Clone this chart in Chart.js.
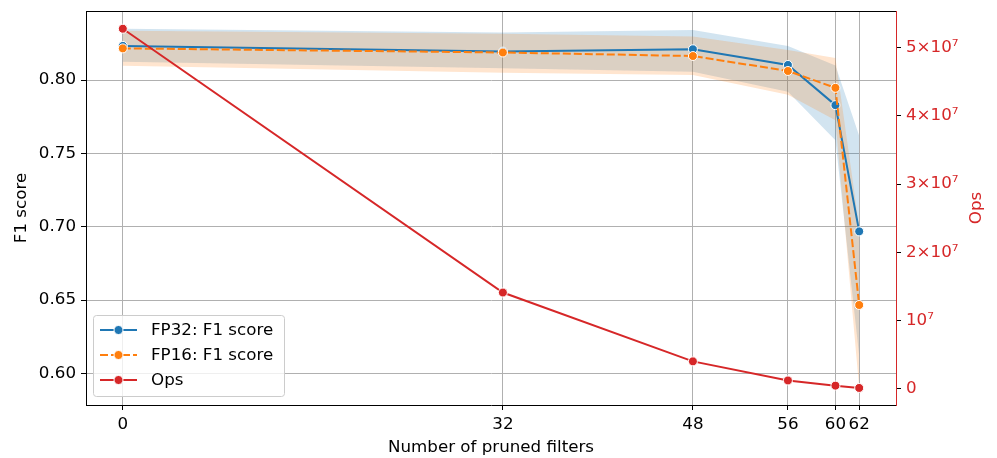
<!DOCTYPE html>
<html>
<head>
<meta charset="utf-8">
<script src="https://cdn.jsdelivr.net/npm/chart.js@4"></script>
<style>
  html, body { margin: 0; padding: 0; background: #fff; }
  #chart { display: block; }
</style>
</head>
<body>
<canvas id="chart" width="997" height="458"></canvas>
<script>
// values
const prunedFilters = [0, 32, 48, 56, 60, 62];
const fp32F1 = [0.8233, 0.8194, 0.821, 0.8103, 0.7829, 0.6968];
const fp32Upper = [0.835, 0.8324, 0.8342, 0.8233, 0.810, 0.762];
const fp32Lower = [0.8125, 0.808, 0.8057, 0.792, 0.759, 0.612];
const fp16F1 = [0.8216, 0.8188, 0.8164, 0.8062, 0.7947, 0.6466];
const fp16Upper = [0.8336, 0.8315, 0.8297, 0.8205, 0.815, 0.700];
const fp16Lower = [0.8098, 0.805, 0.8034, 0.790, 0.7726, 0.590];
const ops = [52.8e6, 14.1e6, 4.0e6, 1.2e6, 0.44e6, 0.1e6];
const f1Ticks = [0.60, 0.65, 0.70, 0.75, 0.80];
const opsTicks = [0, 1e7, 2e7, 3e7, 4e7, 5e7];
const opsTickLabels = ['0', '10⁷', '2×10⁷', '3×10⁷', '4×10⁷', '5×10⁷'];

const BLUE = '#1f77b4', ORANGE = '#ff7f0e', RED = '#d62728';
const FONT = { family: 'DejaVu Sans', size: 16.7 };
const FONT_CSS = '16.7px "DejaVu Sans"';

const pts = ys => ys.map((y, i) => ({ x: prunedFilters[i], y: y }));

const band = (data, order, fill, color) => ({
  data: pts(data), yAxisID: 'y', order: order,
  borderColor: 'transparent', borderWidth: 0, pointRadius: 0,
  fill: fill, backgroundColor: color, tension: 0
});

const line = (label, data, axis, color, order, dash) => ({
  label: label, data: pts(data), yAxisID: axis, order: order,
  borderColor: color, backgroundColor: color, borderWidth: 2, borderDash: dash || [],
  pointRadius: 4.5, pointHoverRadius: 4.5, pointBackgroundColor: color,
  pointBorderColor: '#fff', pointBorderWidth: 1, fill: false, tension: 0
});

const noPad = s => { s.paddingTop = 0; s.paddingBottom = 0; s.paddingLeft = 0; s.paddingRight = 0; };

const legendItems = [
  { text: 'FP32: F1 score', color: BLUE, dash: [] },
  { text: 'FP16: F1 score', color: ORANGE, dash: [8, 3] },
  { text: 'Ops', color: RED, dash: [] }
];

const extras = {
  id: 'extras',
  afterDraw(chart) {
    const { ctx, chartArea: a } = chart;
    ctx.save();
    // top spine
    ctx.strokeStyle = '#000';
    ctx.lineWidth = 1;
    ctx.beginPath();
    ctx.moveTo(a.left, a.top + 0.5);
    ctx.lineTo(a.right, a.top + 0.5);
    ctx.stroke();

    // right axis title, reading bottom to top
    ctx.save();
    ctx.translate(977, (a.top + a.bottom) / 2);
    ctx.rotate(-Math.PI / 2);
    ctx.fillStyle = RED;
    ctx.font = FONT_CSS;
    ctx.textAlign = 'center';
    ctx.textBaseline = 'middle';
    ctx.fillText('Ops', 0, 0);
    ctx.restore();

    // legend
    const bx = 93.5, by = 315.5, bw = 191, bh = 81, r = 3;
    ctx.beginPath();
    ctx.moveTo(bx + r, by);
    ctx.arcTo(bx + bw, by, bx + bw, by + bh, r);
    ctx.arcTo(bx + bw, by + bh, bx, by + bh, r);
    ctx.arcTo(bx, by + bh, bx, by, r);
    ctx.arcTo(bx, by, bx + bw, by, r);
    ctx.closePath();
    ctx.fillStyle = 'rgba(255,255,255,0.8)';
    ctx.fill();
    ctx.strokeStyle = '#cccccc';
    ctx.stroke();

    ctx.font = FONT_CSS;
    ctx.textBaseline = 'middle';
    ctx.textAlign = 'left';
    legendItems.forEach((it, i) => {
      const y = 330 + i * 25;
      ctx.strokeStyle = it.color;
      ctx.lineWidth = 2;
      ctx.setLineDash(it.dash);
      ctx.beginPath();
      ctx.moveTo(100, y);
      ctx.lineTo(137, y);
      ctx.stroke();
      ctx.setLineDash([]);
      ctx.beginPath();
      ctx.arc(118.5, y, 4.5, 0, Math.PI * 2);
      ctx.fillStyle = it.color;
      ctx.fill();
      ctx.strokeStyle = '#fff';
      ctx.lineWidth = 1;
      ctx.stroke();
      ctx.fillStyle = '#000';
      ctx.fillText(it.text, 151, y + 1);
    });
    ctx.restore();
  }
};

new Chart(document.getElementById('chart').getContext('2d'), {
  type: 'line',
  data: {
    datasets: [
      band(fp32Upper, 6, false, 'transparent'),
      band(fp32Lower, 5, '-1', 'rgba(31,119,180,0.2)'),
      band(fp16Upper, 4, false, 'transparent'),
      band(fp16Lower, 3, '-1', 'rgba(255,127,14,0.2)'),
      line('FP32: F1 score', fp32F1, 'y', BLUE, 2),
      line('FP16: F1 score', fp16F1, 'y', ORANGE, 1, [8, 3]),
      line('Ops', ops, 'y1', RED, 0)
    ]
  },
  options: {
    responsive: false,
    animation: false,
    events: [],
    layout: { padding: { top: 11, left: 0, right: 0, bottom: 0 } },
    plugins: { legend: { display: false }, tooltip: { enabled: false } },
    scales: {
      x: {
        type: 'linear', min: -3.1, max: 65.1,
        afterBuildTicks: s => { s.ticks = prunedFilters.map(v => ({ value: v })); },
        afterFit: s => { s.height = 53; noPad(s); },
        grid: { color: '#b0b0b0', lineWidth: 1, tickColor: '#000', tickLength: 5 },
        border: { color: '#000', width: 1 },
        ticks: { color: '#000', font: FONT, padding: 5, maxRotation: 0, autoSkip: false, callback: v => String(v) },
        title: { display: true, text: 'Number of pruned filters', color: '#000', font: FONT, padding: { top: 0, bottom: 0 } }
      },
      y: {
        position: 'left', min: 0.5784, max: 0.8471,
        afterBuildTicks: s => { s.ticks = f1Ticks.map(v => ({ value: v })); },
        afterFit: s => { s.width = 86; noPad(s); },
        grid: { color: '#b0b0b0', lineWidth: 1, tickColor: '#000', tickLength: 5 },
        border: { color: '#000', width: 1 },
        ticks: { color: '#000', font: FONT, padding: 5, callback: v => v.toFixed(2) },
        title: { display: true, text: 'F1 score', color: '#000', font: FONT, padding: { top: 12, bottom: 0 } }
      },
      y1: {
        position: 'right', min: -2.4e6, max: 55.4e6,
        afterBuildTicks: s => { s.ticks = opsTicks.map(v => ({ value: v })); },
        afterFit: s => { s.width = 101; noPad(s); },
        grid: { drawOnChartArea: false, tickColor: '#000', tickLength: 5 },
        border: { color: RED, width: 1 },
        ticks: { color: RED, font: FONT, padding: 5, callback: (v, i) => opsTickLabels[i] }
      }
    }
  },
  plugins: [extras]
});
</script>
</body>
</html>
